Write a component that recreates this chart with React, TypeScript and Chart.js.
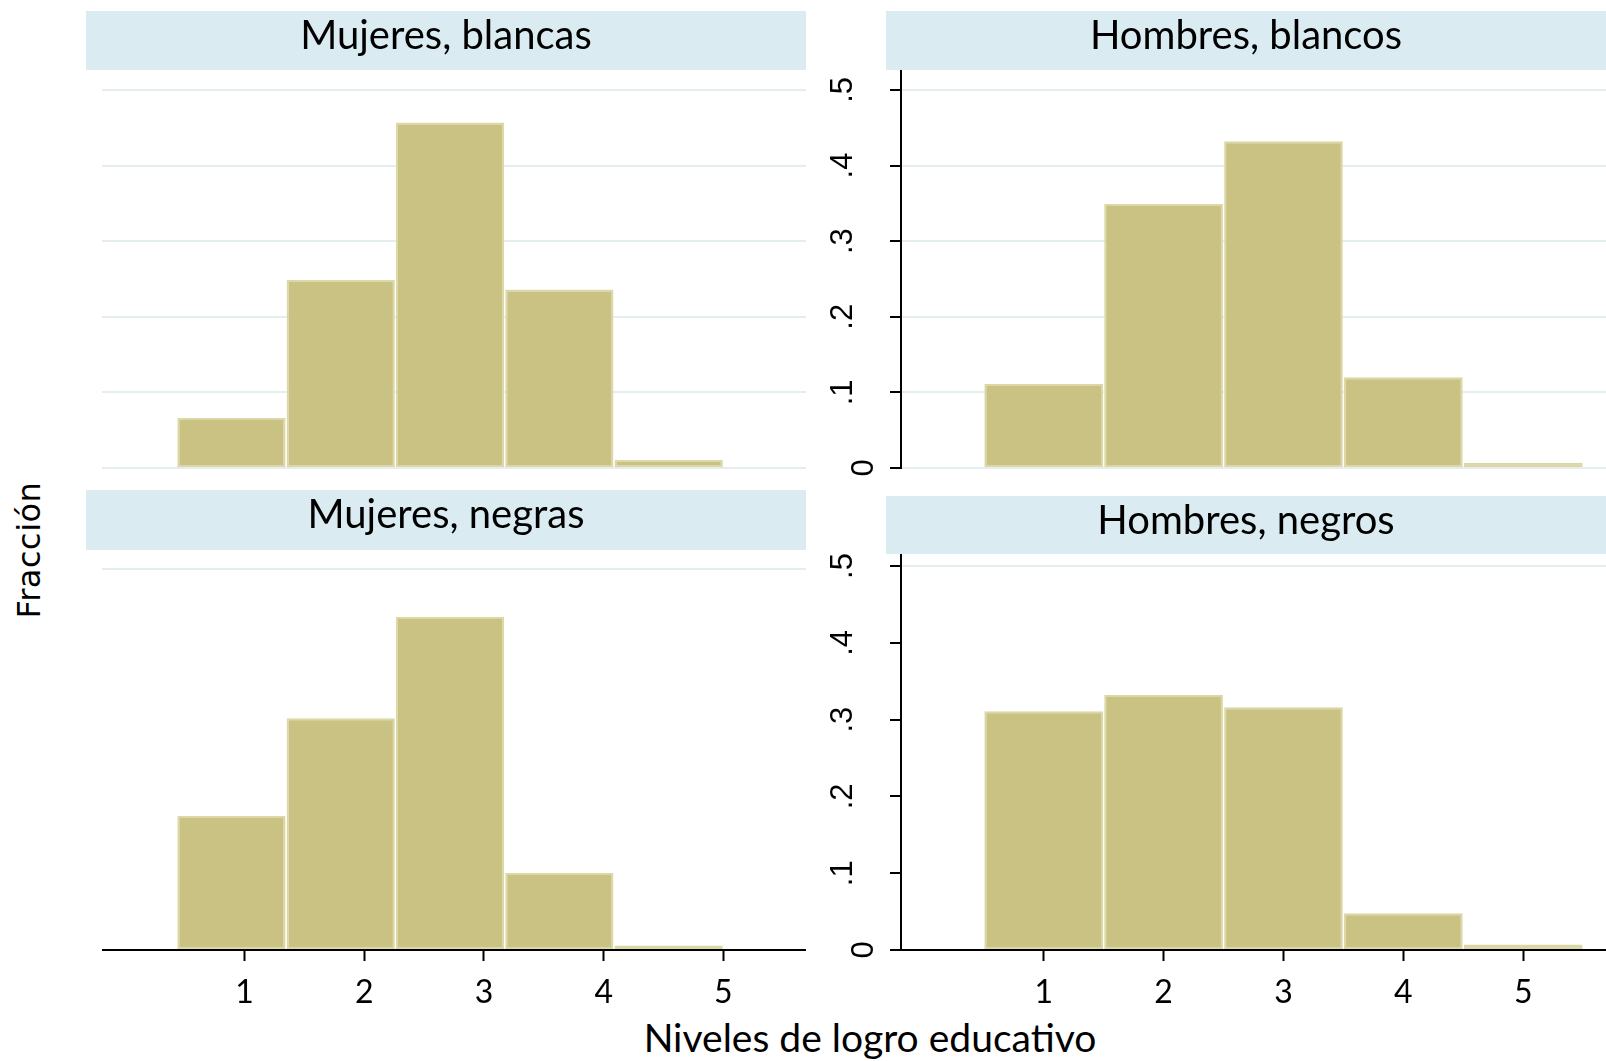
import React, { useEffect, useRef } from "react";
import { Chart, registerables } from "chart.js";

Chart.register(...registerables);

// ---- data ----
const X_TICKS = [1, 2, 3, 4, 5];
const Y_TICKS = [0, 0.1, 0.2, 0.3, 0.4, 0.5];
const Y_TICK_LABELS = ["0", ".1", ".2", ".3", ".4", ".5"];
const MUJERES_BIN_CENTERS = [0.891, 1.804, 2.717, 3.63, 4.543];
const HOMBRES_BIN_CENTERS = [1, 2, 3, 4, 5];
const MUJERES_BLANCAS = [0.066, 0.249, 0.457, 0.236, 0.011];
const HOMBRES_BLANCOS = [0.111, 0.349, 0.432, 0.12, 0.007];
const MUJERES_NEGRAS = [0.176, 0.304, 0.437, 0.101, 0.006];
const HOMBRES_NEGROS = [0.311, 0.332, 0.316, 0.048, 0.007];
const PANEL_TITLES = ["Mujeres, blancas", "Hombres, blancos", "Mujeres, negras", "Hombres, negros"];
const Y_TITLE = "Fracción";
const X_TITLE = "Niveles de logro educativo";

// ---- style ----
const FILL = "#cac282";
const EDGE = "#dcd8a6";
const GRID = "#e4eef1";
const STRIP = "#daecf2";
const X_MIN = -0.19;
const X_MAX = 5.69;

type PanelProps = {
  left: number;
  top: number;
  width: number;
  height: number;
  padTop: number;
  padBottom: number;
  yMax: number;
  centers: number[];
  values: number[];
  showX: boolean;
  showY: boolean;
  allGrid: boolean;
};

const yLabelPlugin = {
  id: "yLabels",
  afterDraw(chart: any) {
    const s = chart.scales.y;
    const ctx = chart.ctx;
    ctx.save();
    ctx.font = '31px "Liberation Sans", Arial, sans-serif';
    ctx.fillStyle = "#000";
    ctx.textAlign = "center";
    ctx.textBaseline = "alphabetic";
    Y_TICKS.forEach((v, i) => {
      const label = Y_TICK_LABELS[i];
      const y = s.getPixelForValue(v);
      const bx = chart.chartArea.left - (label.startsWith(".") ? 49 : 28);
      ctx.save();
      ctx.translate(bx, y);
      ctx.rotate(-Math.PI / 2);
      ctx.fillText(label, 0, 0);
      ctx.restore();
    });
    ctx.restore();
  },
};

function Panel(p: PanelProps) {
  const ref = useRef<HTMLCanvasElement | null>(null);
  useEffect(() => {
    if (!ref.current) return;
    const chart = new Chart(ref.current, {
      type: "bar",
      data: {
        datasets: [
          {
            data: p.centers.map((x, i) => ({ x, y: p.values[i] })),
            backgroundColor: FILL,
            borderColor: EDGE,
            borderWidth: 2,
            borderSkipped: false,
            barPercentage: 0.99,
            categoryPercentage: 1,
          } as any,
        ],
      },
      options: {
        responsive: false,
        animation: false,
        events: [],
        layout: { padding: { top: p.padTop, bottom: p.padBottom, left: 0, right: 0 } },
        plugins: { legend: { display: false }, tooltip: { enabled: false }, title: { display: false } },
        scales: {
          x: {
            type: "linear",
            min: X_MIN,
            max: X_MAX,
            offset: false,
            display: p.showX,
            z: 1,
            afterBuildTicks: (s: any) => {
              s.ticks = X_TICKS.map((v) => ({ value: v }));
            },
            afterFit: (s: any) => {
              s.height = p.showX ? 60 : 0;
            },
            grid: {
              offset: false,
              drawOnChartArea: false,
              drawTicks: true,
              tickLength: 11,
              tickColor: "#000",
              tickWidth: 2,
            },
            border: { display: true, color: "#000", width: 2 },
            ticks: {
              font: { family: "Lato", size: 32 },
              color: "#000",
              padding: 12,
              maxRotation: 0,
              minRotation: 0,
              autoSkip: false,
              callback: (v: any) => String(v),
            },
          },
          y: {
            type: "linear",
            min: 0,
            max: p.yMax,
            afterBuildTicks: (s: any) => {
              s.ticks = Y_TICKS.map((v) => ({ value: v }));
            },
            afterFit: (s: any) => {
              s.width = p.showY ? 81 : 0;
            },
            grid: {
              color: (c: any) =>
                p.allGrid || (c.tick && c.tick.value === 0.5) ? GRID : "rgba(0,0,0,0)",
              lineWidth: 2,
              drawTicks: p.showY,
              tickLength: 11,
              tickColor: "#000",
              tickWidth: 2,
            },
            border: { display: p.showY, color: "#000", width: 2 },
            ticks: { display: false },
          },
        },
      } as any,
      plugins: p.showY ? [yLabelPlugin] : [],
    });
    return () => chart.destroy();
  }, []);
  return (
    <canvas
      ref={ref}
      width={p.width}
      height={p.height}
      style={{ position: "absolute", left: p.left, top: p.top, width: p.width, height: p.height }}
    />
  );
}

function Strip({ left, top, height, text }: { left: number; top: number; height: number; text: string }) {
  return (
    <div
      style={{
        position: "absolute",
        left,
        top,
        width: 720,
        height,
        background: STRIP,
      }}
    >
      <div
        style={{
          position: "absolute",
          left: 0,
          top: 3,
          width: "100%",
          textAlign: "center",
          font: '40px Lato, sans-serif',
          lineHeight: "40px",
          color: "#000",
          whiteSpace: "nowrap",
        }}
      >
        {text}
      </div>
    </div>
  );
}

export default function App() {
  return (
    <div
      style={{
        position: "absolute",
        left: 0,
        top: 0,
        width: 1606,
        height: 1061,
        background: "#fff",
        overflow: "hidden",
      }}
    >
      <Panel left={102} top={60} width={704} height={420} padTop={11} padBottom={12} yMax={0.525}
        centers={MUJERES_BIN_CENTERS} values={MUJERES_BLANCAS} showX={false} showY={false} allGrid={true} />
      <Panel left={820} top={60} width={786} height={420} padTop={11} padBottom={12} yMax={0.525}
        centers={HOMBRES_BIN_CENTERS} values={HOMBRES_BLANCOS} showX={false} showY={true} allGrid={true} />
      <Panel left={102} top={540} width={704} height={470} padTop={13} padBottom={0} yMax={0.521}
        centers={MUJERES_BIN_CENTERS} values={MUJERES_NEGRAS} showX={true} showY={false} allGrid={false} />
      <Panel left={820} top={540} width={786} height={470} padTop={13} padBottom={0} yMax={0.517}
        centers={HOMBRES_BIN_CENTERS} values={HOMBRES_NEGROS} showX={true} showY={true} allGrid={false} />

      <Strip left={86} top={11} height={59} text={PANEL_TITLES[0]} />
      <Strip left={886} top={11} height={59} text={PANEL_TITLES[1]} />
      <Strip left={86} top={490} height={60} text={PANEL_TITLES[2]} />
      <Strip left={886} top={496} height={58} text={PANEL_TITLES[3]} />

      <div
        style={{
          position: "absolute",
          left: 29,
          top: 550,
          transform: "translate(-50%, -50%) rotate(-90deg)",
          font: '32px "DejaVu Sans", sans-serif',
          letterSpacing: "0.5px",
          color: "#000",
          whiteSpace: "nowrap",
        }}
      >
        {Y_TITLE}
      </div>
      <div
        style={{
          position: "absolute",
          left: 470,
          top: 1018,
          width: 800,
          textAlign: "center",
          font: '39px Lato, sans-serif',
          lineHeight: "39px",
          color: "#000",
          whiteSpace: "nowrap",
        }}
      >
        {X_TITLE}
      </div>
    </div>
  );
}
